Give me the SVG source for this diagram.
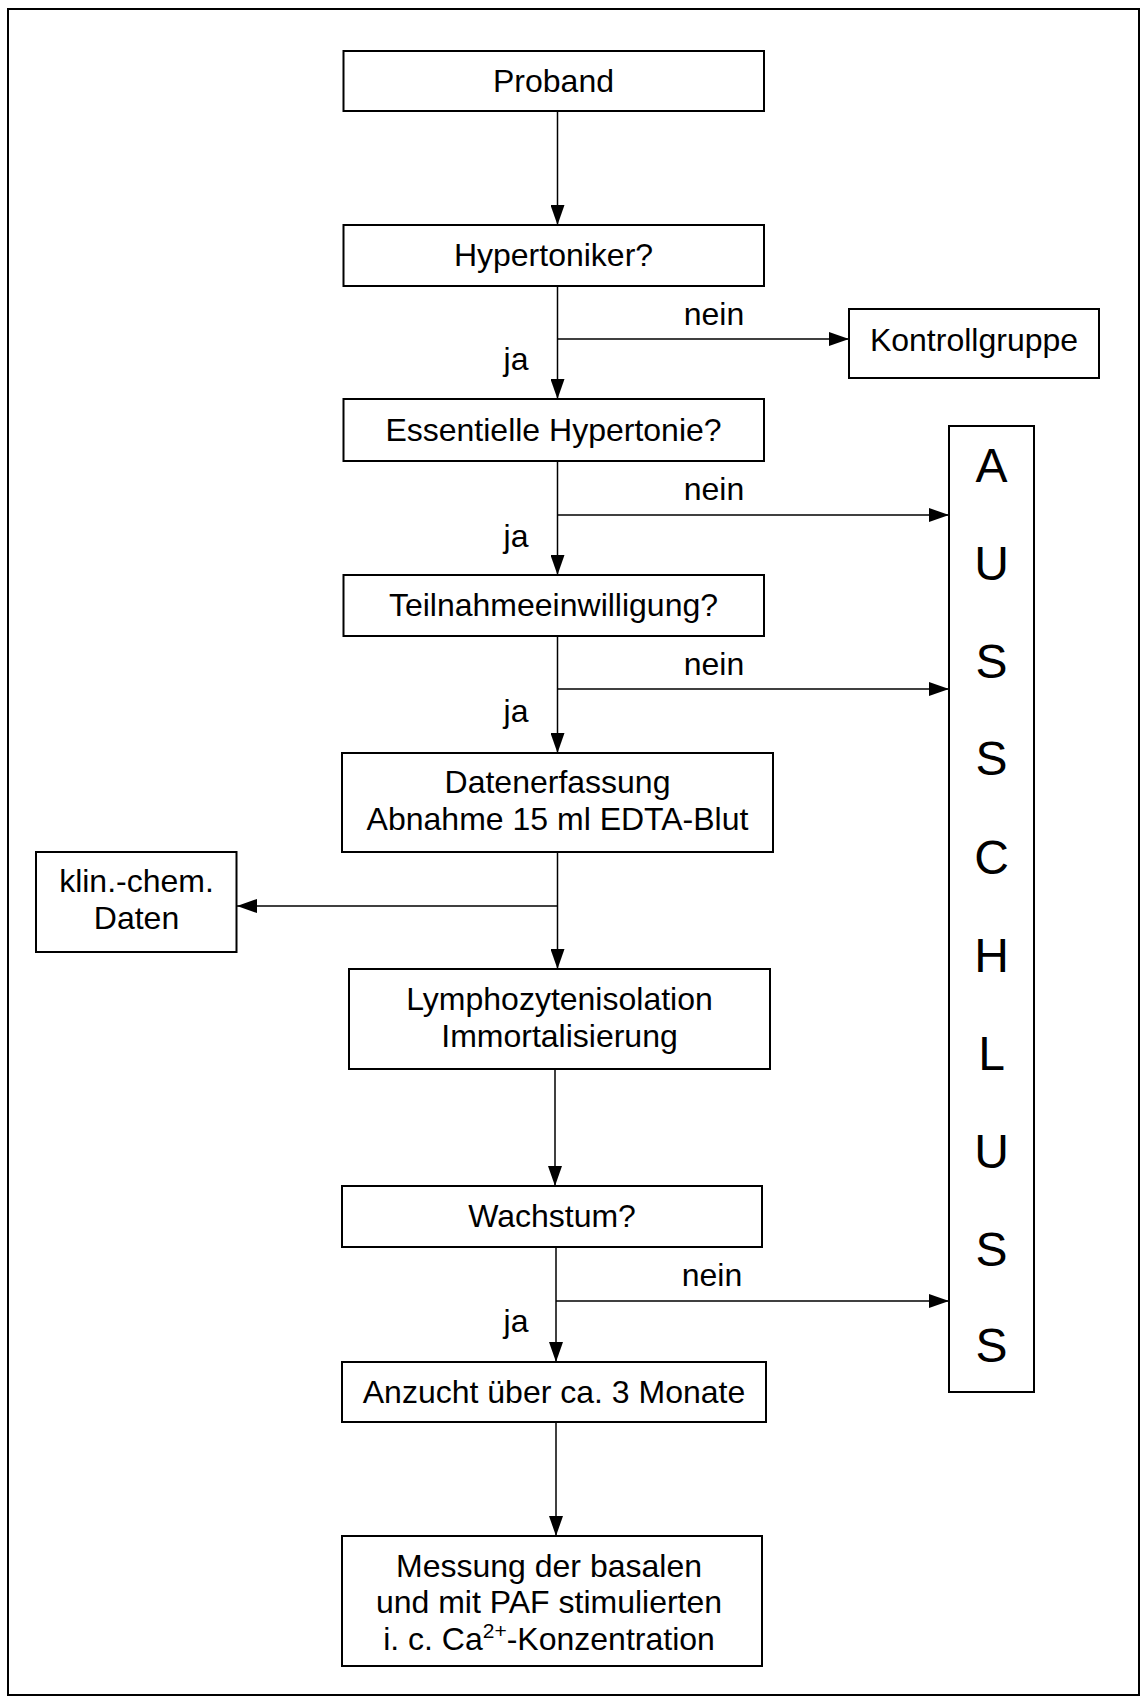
<svg xmlns="http://www.w3.org/2000/svg" width="1141" height="1697" viewBox="0 0 1141 1697">
<style>
.box{fill:#fff;stroke:#000;stroke-width:2}
.t{font-family:"Liberation Sans",Arial,sans-serif;font-size:32px;fill:#000;text-anchor:middle}
.big{font-family:"Liberation Sans",Arial,sans-serif;font-size:48px;fill:#000;text-anchor:middle}
.c{fill:none;stroke:#000;stroke-width:1.5}
</style>
<defs>
<marker id="arr" viewBox="0 0 20 14" refX="20" refY="7" markerWidth="20" markerHeight="14" markerUnits="userSpaceOnUse" orient="auto"><path d="M0,0 L20,7 L0,14 z" fill="#000"/></marker>
</defs>
<rect x="8" y="9" width="1131" height="1686" fill="#fff" stroke="#000" stroke-width="2"/>
<g id="connectors">
<line class="c" x1="557.5" y1="111" x2="557.5" y2="225" marker-end="url(#arr)"/>
<line class="c" x1="557.5" y1="286" x2="557.5" y2="399" marker-end="url(#arr)"/>
<line class="c" x1="557.5" y1="339" x2="849" y2="339" marker-end="url(#arr)"/>
<line class="c" x1="557.5" y1="461" x2="557.5" y2="575" marker-end="url(#arr)"/>
<line class="c" x1="557.5" y1="515" x2="949" y2="515" marker-end="url(#arr)"/>
<line class="c" x1="557.5" y1="636" x2="557.5" y2="753" marker-end="url(#arr)"/>
<line class="c" x1="557.5" y1="689" x2="949" y2="689" marker-end="url(#arr)"/>
<line class="c" x1="557.5" y1="852" x2="557.5" y2="969" marker-end="url(#arr)"/>
<line class="c" x1="557.5" y1="906" x2="237" y2="906" marker-end="url(#arr)"/>
<line class="c" x1="555" y1="1069" x2="555" y2="1186" marker-end="url(#arr)"/>
<line class="c" x1="556" y1="1247" x2="556" y2="1362" marker-end="url(#arr)"/>
<line class="c" x1="556" y1="1301" x2="949" y2="1301" marker-end="url(#arr)"/>
<line class="c" x1="556" y1="1422" x2="556" y2="1536" marker-end="url(#arr)"/>
<text class="t" x="714" y="325">nein</text>
<text class="t" x="516" y="370">ja</text>
<text class="t" x="714" y="500">nein</text>
<text class="t" x="516" y="547">ja</text>
<text class="t" x="714" y="675">nein</text>
<text class="t" x="516" y="722">ja</text>
<text class="t" x="712" y="1286">nein</text>
<text class="t" x="516" y="1332">ja</text>
</g>
<g id="proband"><rect class="box" x="343.5" y="51" width="420.5" height="60"/><text class="t" x="553.5" y="92">Proband</text></g>
<g id="hypertoniker"><rect class="box" x="343.5" y="225" width="420.5" height="61"/><text class="t" x="553.5" y="266">Hypertoniker?</text></g>
<g id="kontrollgruppe"><rect class="box" x="849" y="309" width="250" height="69"/><text class="t" x="974" y="351">Kontrollgruppe</text></g>
<g id="essentielle"><rect class="box" x="343.5" y="399" width="420.5" height="62"/><text class="t" x="553.5" y="441">Essentielle Hypertonie?</text></g>
<g id="teilnahme"><rect class="box" x="343.5" y="575" width="420.5" height="61"/><text class="t" x="553.5" y="616">Teilnahmeeinwilligung?</text></g>
<g id="datenerfassung"><rect class="box" x="342" y="753" width="431" height="99"/><text class="t" x="557.5" y="793">Datenerfassung</text><text class="t" x="557.5" y="830">Abnahme 15 ml EDTA-Blut</text></g>
<g id="klinchem"><rect class="box" x="36" y="852" width="200.5" height="100"/><text class="t" x="136.5" y="892">klin.-chem.</text><text class="t" x="136.5" y="929">Daten</text></g>
<g id="lymph"><rect class="box" x="349" y="969" width="421" height="100"/><text class="t" x="559.5" y="1010">Lymphozytenisolation</text><text class="t" x="559.5" y="1047">Immortalisierung</text></g>
<g id="wachstum"><rect class="box" x="342" y="1186" width="420" height="61"/><text class="t" x="552" y="1227">Wachstum?</text></g>
<g id="anzucht"><rect class="box" x="342" y="1362" width="424" height="60"/><text class="t" x="554" y="1403">Anzucht über ca. 3 Monate</text></g>
<g id="messung"><rect class="box" x="342" y="1536" width="420" height="130"/><text class="t" x="549" y="1577">Messung der basalen</text><text class="t" x="549" y="1613">und mit PAF stimulierten</text><text class="t" x="549" y="1650">i. c. Ca<tspan font-size="21" dy="-12">2+</tspan><tspan dy="12">-Konzentration</tspan></text></g>
<g id="ausschluss"><rect class="box" x="949" y="426" width="85" height="966"/>
<text class="big" x="991.5" y="482">A</text>
<text class="big" x="991.5" y="580">U</text>
<text class="big" x="991.5" y="678">S</text>
<text class="big" x="991.5" y="775">S</text>
<text class="big" x="991.5" y="874">C</text>
<text class="big" x="991.5" y="972">H</text>
<text class="big" x="991.5" y="1070">L</text>
<text class="big" x="991.5" y="1168">U</text>
<text class="big" x="991.5" y="1266">S</text>
<text class="big" x="991.5" y="1362">S</text>
</g>
</svg>
